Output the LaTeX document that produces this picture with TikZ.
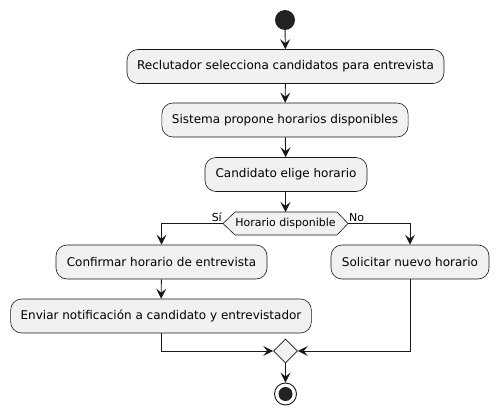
\documentclass[tikz,border=0pt]{standalone}
\usepackage{fontspec}
\setmainfont{DejaVu Sans}
\usetikzlibrary{arrows.meta,shapes.geometric,shapes.misc}
\definecolor{boxfill}{HTML}{F1F1F1}
\definecolor{edge}{HTML}{181818}
\definecolor{dot}{HTML}{222222}
\tikzset{
  act/.style={draw=edge, fill=boxfill, rounded corners=11pt, line width=0.6pt, minimum height=34pt, inner xsep=10pt, font=\fontsize{12}{14}\selectfont, anchor=center},
  flow/.style={draw=edge, line width=0.9pt, -{Stealth[length=10pt,width=10pt,inset=4pt]}},
  plain/.style={draw=edge, line width=0.9pt},
  lbl/.style={font=\fontsize{11}{13}\selectfont, inner sep=1pt}
}
\begin{document}
\begin{tikzpicture}[x=1pt,y=-1pt]
\useasboundingbox (0,0) rectangle (498,415);
\node[circle, fill=dot, minimum size=20pt, inner sep=0pt] (start) at (285,20) {};
\node[act, minimum width=317pt] (a1) at (285.5,66.5) {Reclutador selecciona candidatos para entrevista};
\node[act, minimum width=246pt] (a2) at (285,120) {Sistema propone horarios disponibles};
\node[act, minimum width=162pt] (a3) at (286,174.5) {Candidato elige horario};
\draw[draw=edge, fill=boxfill, line width=0.6pt] (223,223.5) -- (235,212) -- (337,212) -- (348,223.5) -- (337,235) -- (235,235) -- cycle;
\node[font=\fontsize{11}{13}\selectfont, inner sep=0pt] (dec) at (285.5,223.5) {Horario disponible};
\coordinate (decL) at (223,223.5);
\coordinate (decR) at (348,223.5);
\coordinate (decT) at (285.5,212);
\coordinate (decB) at (285.5,235);
\node[act, minimum width=211pt] (b1) at (161.5,262) {Confirmar horario de entrevista};
\node[act, minimum width=300pt] (b2) at (161,316) {Enviar notificación a candidato y entrevistador};
\node[act, minimum width=158pt] (c1) at (410,262) {Solicitar nuevo horario};
\node[diamond, draw=edge, fill=boxfill, line width=0.6pt, minimum width=24pt, minimum height=24pt, inner sep=0pt] (m) at (285.5,351) {};
\node[circle, draw=edge, line width=0.9pt, minimum size=22pt, inner sep=0pt, fill=white] (end) at (285.5,394) {};
\node[circle, fill=dot, minimum size=14pt, inner sep=0pt] (endin) at (285.5,394) {};
\node[lbl, anchor=south east] (si) at (223,223) {Sí};
\node[lbl, anchor=south west] (no) at (348,223) {No};
\draw[flow] (start) -- (a1);
\draw[flow] (a1) -- (a2);
\draw[flow] (a2) -- (a3);
\draw[flow] (a3.south -| decT) -- (decT);
\draw[flow] (decL) -| (b1.north);
\draw[flow] (decR) -| (c1.north);
\draw[flow] (b1) -- (b2);
\draw[flow] (b2.south) |- (m.west);
\draw[flow] (c1.south) |- (m.east);
\draw[flow] (m.south) -- (end.north);
\end{tikzpicture}
\end{document}
